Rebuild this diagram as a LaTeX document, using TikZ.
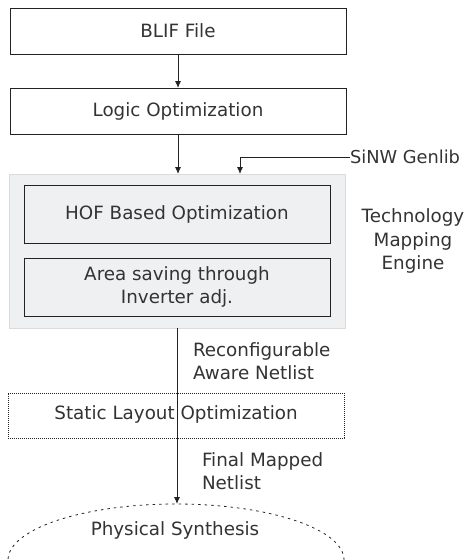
\documentclass[tikz,border=0pt]{standalone}
\usepackage{fontspec}
\setmainfont{DejaVu Sans}
\usetikzlibrary{shapes.geometric,arrows.meta}
\definecolor{txt}{HTML}{333333}
\definecolor{ln}{HTML}{222222}
\definecolor{engfill}{HTML}{EFF0F2}
\definecolor{engdraw}{HTML}{DADBDD}
\begin{document}
\begin{tikzpicture}[x=1pt,y=-1pt,
  every node/.style={font=\fontsize{18.3}{23.5}\selectfont, text=txt, inner sep=0pt, outer sep=0pt},
  box/.style={draw=ln, line width=1pt, minimum width=336pt, minimum height=46pt, align=center},
  inbox/.style={draw=ln, line width=1pt, minimum width=306pt, minimum height=58pt, align=center},
  arr/.style={draw=ln, line width=0.9pt, -{Latex[length=7pt,width=6pt]}},
  lbl/.style={align=left, anchor=west}]
\useasboundingbox (0,0) rectangle (468,560);
\clip (0,0) rectangle (468,560);
\node[box] (blif) at (178,31) {BLIF File};
\node[box] (logic) at (178,111) {Logic Optimization};
\node[fill=engfill, draw=engdraw, line width=1pt, minimum width=336pt, minimum height=154pt] (engine) at (177,251) {};
\node[inbox] (hof) at (177,214) {HOF Based Optimization};
\node[inbox] (area) at (177,287) {Area saving through\\Inverter adj.};
\node[lbl, font=\fontsize{17.8}{23}\selectfont] (sinw) at (350,157) {SiNW Genlib};
\node[align=center] (tech) at (413,241) {Technology\\Mapping\\Engine};
\node[draw=ln, line width=0.7pt, dash pattern=on 0.8pt off 1.2pt, minimum width=336pt, minimum height=45pt] (static) at (176,415.5) {};
\node (statict) at (176,414) {Static Layout Optimization};
\node[lbl] (recon) at (193,361) {Reconfigurable\\Aware Netlist};
\node[lbl] (final) at (202,471) {Final Mapped\\Netlist};
\node[ellipse, draw=ln, line width=0.8pt, dash pattern=on 2.5pt off 4pt, minimum width=336pt, minimum height=112pt] (phys) at (176,560) {};
\node (physt) at (175,530) {Physical Synthesis};
\coordinate (sinwturn) at (240,157);
\coordinate (sinwend) at (240,174);
\draw[arr] (blif.south -| 178,0) -- (logic.north -| 178,0);
\draw[arr] (logic.south -| 178,0) -- (engine.north -| 178,0);
\draw[arr] (sinw.west) -- (sinwturn) -- (sinwend);
\draw[arr] (engine.south -| 177,0) -- (phys.north -| 177,0);
\end{tikzpicture}
\end{document}
